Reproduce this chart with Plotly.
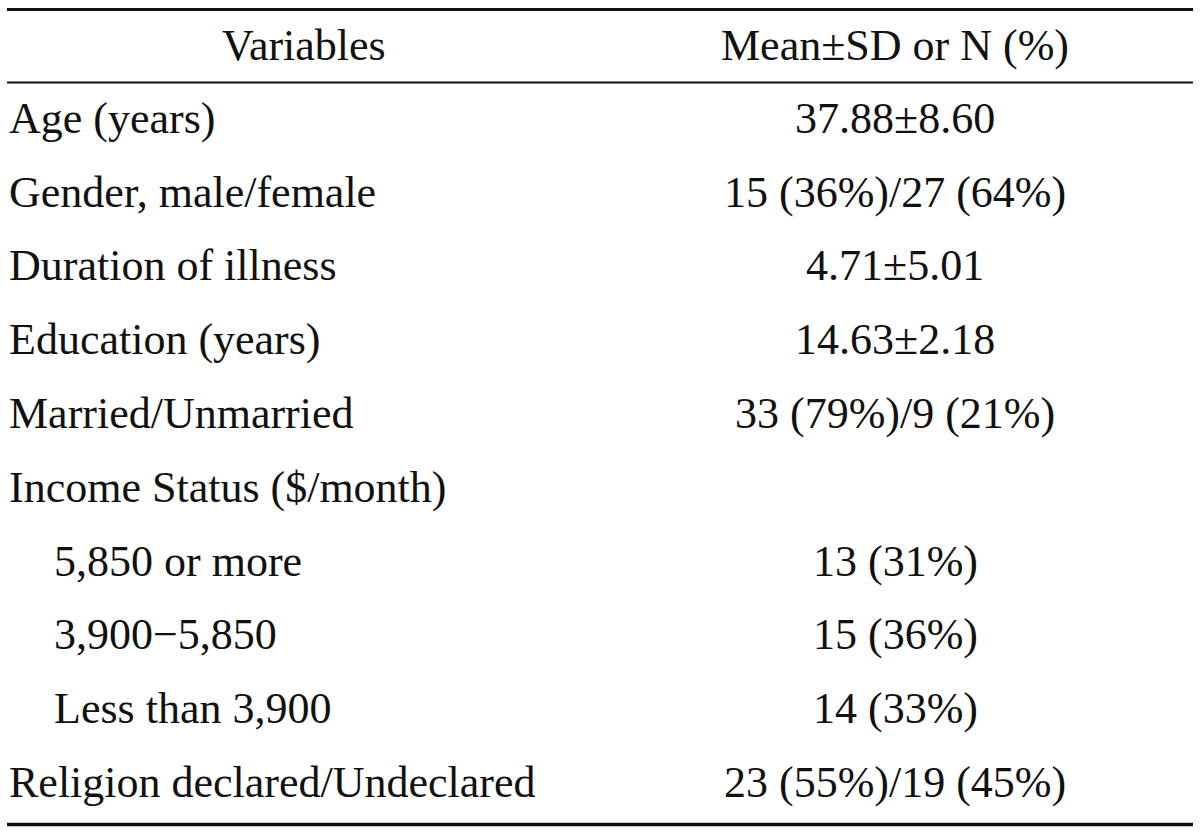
import plotly.graph_objects as go

# ---- table content ----
header_left = "Variables"
header_right = "Mean±SD or N (%)"
variables = [
    "Age (years)",
    "Gender, male/female",
    "Duration of illness",
    "Education (years)",
    "Married/Unmarried",
    "Income Status ($/month)",
    "5,850 or more",
    "3,900−5,850",
    "Less than 3,900",
    "Religion declared/Undeclared",
]
values = [
    "37.88±8.60",
    "15 (36%)/27 (64%)",
    "4.71±5.01",
    "14.63±2.18",
    "33 (79%)/9 (21%)",
    "",
    "13 (31%)",
    "15 (36%)",
    "14 (33%)",
    "23 (55%)/19 (45%)",
]
indented = [False, False, False, False, False, False, True, True, True, False]

W, H = 1200, 834
FONT = dict(family="Liberation Serif, Times New Roman, serif", size=44, color="#111111")

first_row_center = 118.3
row_step = 73.8
header_center = 45.3
left_x = 7
indent_x = 52
right_center = 895
left_header_center = 304

annotations = []
annotations.append(dict(x=left_header_center, y=header_center, text=header_left,
                        xanchor="center", yanchor="middle", showarrow=False, font=FONT))
annotations.append(dict(x=right_center, y=header_center, text=header_right,
                        xanchor="center", yanchor="middle", showarrow=False, font=FONT))
for i, (var, val, ind) in enumerate(zip(variables, values, indented)):
    yc = first_row_center + row_step * i
    annotations.append(dict(x=indent_x if ind else left_x, y=yc, text=var,
                            xanchor="left", yanchor="middle", showarrow=False, font=FONT))
    if val:
        annotations.append(dict(x=right_center, y=yc, text=val,
                                xanchor="center", yanchor="middle", showarrow=False, font=FONT))

shapes = [
    dict(type="line", x0=7, x1=1193, y0=9.5, y1=9.5, line=dict(color="#111111", width=3)),
    dict(type="line", x0=7, x1=1193, y0=82.5, y1=82.5, line=dict(color="#111111", width=2)),
    dict(type="line", x0=7, x1=1193, y0=824.5, y1=824.5, line=dict(color="#111111", width=3.5)),
]

fig = go.Figure()
fig.update_layout(
    width=W, height=H,
    margin=dict(l=0, r=0, t=0, b=0),
    paper_bgcolor="white", plot_bgcolor="white",
    xaxis=dict(range=[0, W], visible=False, fixedrange=True),
    yaxis=dict(range=[H, 0], visible=False, fixedrange=True),
    annotations=annotations,
    shapes=shapes,
    showlegend=False,
)
fig.write_html(
    "out.html",
    config={"displayModeBar": False},
    post_script="document.body.style.margin='0';document.body.style.padding='0';document.body.style.overflow='hidden';",
)
